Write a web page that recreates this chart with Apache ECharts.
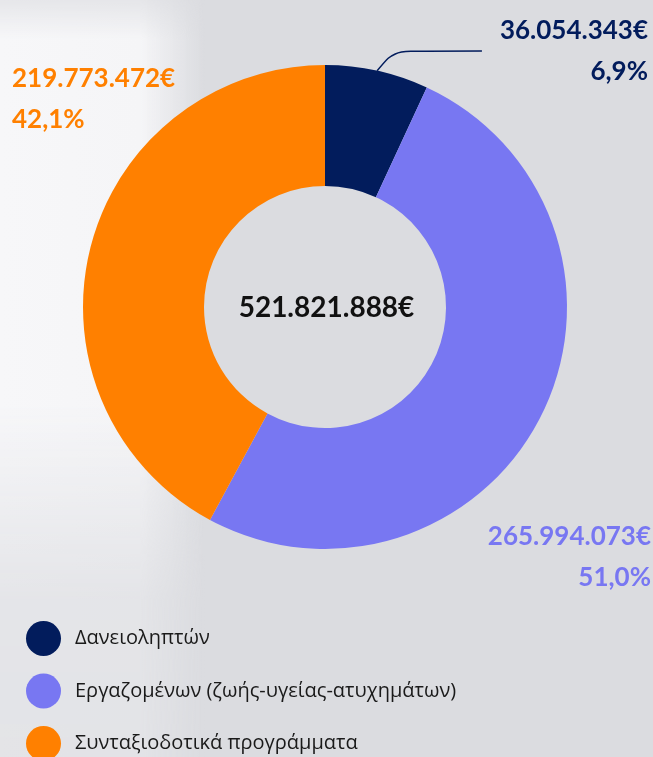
<!DOCTYPE html>
<html lang="el">
<head>
    <meta charset="UTF-8">
    <title>Κατανομή ασφαλίστρων</title>
    <script src="https://cdn.jsdelivr.net/npm/echarts@6/dist/echarts.min.js"></script>
    <style>
        body {
            margin: 0;
        }

        #wrap {
            position: relative;
            width: 653px;
            height: 757px;
            background: #dbdce0;
        }

        /* θολή φωτεινή περιοχή αριστερά */
        #glow {
            position: absolute;
            left: 0;
            top: 0;
            width: 240px;
            height: 757px;
            background: linear-gradient(90deg, #f7f7f9 0, #f5f5f7 140px, rgba(219, 220, 224, 0) 205px);
            -webkit-mask-image: linear-gradient(to bottom, rgba(0,0,0,0.4) 0, #000 40px, #000 400px, rgba(0,0,0,0.35) 600px, rgba(0,0,0,0.3) 757px);
            mask-image: linear-gradient(to bottom, rgba(0,0,0,0.4) 0, #000 40px, #000 400px, rgba(0,0,0,0.35) 600px, rgba(0,0,0,0.3) 757px);
        }

        #root {
            position: absolute;
            left: 0;
            top: 0;
            width: 653px;
            height: 757px;
        }
    </style>
</head>
<body>
    <div id="wrap">
        <div id="glow"></div>
        <div id="root"></div>
    </div>
    <script>
        var categories = ['Δανειοληπτών', 'Εργαζομένων (ζωής-υγείας-ατυχημάτων)', 'Συνταξιοδοτικά προγράμματα'];
        var amounts = [36054343, 265994073, 219773472];
        var colors = ['#021c5c', '#7877f2', '#ff8000'];

        // θέση ετικέτας για κάθε φέτα
        var labelPos = [
            [648, 51, 'right'],
            [651, 557, 'right'],
            [12, 99, 'left']
        ];

        function euro(n) {
            return String(n).replace(/\B(?=(\d{3})+(?!\d))/g, '.') + '€';
        }

        var total = amounts.reduce(function (a, b) { return a + b; }, 0);

        var chart = echarts.init(document.getElementById('root'));

        chart.setOption({
            backgroundColor: 'transparent',
            animation: false,
            title: {
                text: euro(total),
                left: 'center',
                top: 289,
                textStyle: {
                    fontFamily: 'Lato',
                    fontSize: 28,
                    fontWeight: 'bold',
                    color: '#111'
                }
            },
            legend: {
                orient: 'vertical',
                left: 26,
                top: 621,
                height: 200,
                padding: 0,
                itemWidth: 35,
                itemHeight: 35,
                itemGap: 17.5,
                icon: 'circle',
                textStyle: {
                    fontFamily: 'Open Sans',
                    fontSize: 20,
                    color: '#1a1a1a',
                    padding: [0, 0, 0, 9]
                },
                data: categories
            },
            series: [{
                type: 'pie',
                center: [325, 307],
                radius: [121, 242],
                startAngle: 90,
                avoidLabelOverlap: false,
                label: {
                    show: true,
                    position: 'outside',
                    formatter: function (p) {
                        var lead = p.dataIndex === 0 ? '{g| }' : '';
                        return lead + '{v|' + euro(p.value) + '}\n{v|' + p.percent.toFixed(1).replace('.', ',') + '%}';
                    },
                    rich: {
                        v: {
                            fontFamily: 'Lato',
                            fontSize: 26,
                            fontWeight: 'bold',
                            lineHeight: 41
                        },
                        g: {
                            width: 18,
                            lineHeight: 41
                        }
                    }
                },
                labelLine: { show: false },
                labelLayout: function (params) {
                    var p = labelPos[params.dataIndex];
                    return { x: p[0], y: p[1], align: p[2], verticalAlign: 'middle' };
                },
                data: categories.map(function (name, i) {
                    var item = {
                        name: name,
                        value: amounts[i],
                        itemStyle: { color: colors[i] },
                        label: { color: colors[i] }
                    };
                    if (i === 0) {
                        item.labelLine = {
                            show: true,
                            smooth: 0.3,
                            length2: 88,
                            lineStyle: { color: colors[i], width: 1.5 }
                        };
                    }
                    return item;
                })
            }]
        });
    </script>
</body>
</html>
